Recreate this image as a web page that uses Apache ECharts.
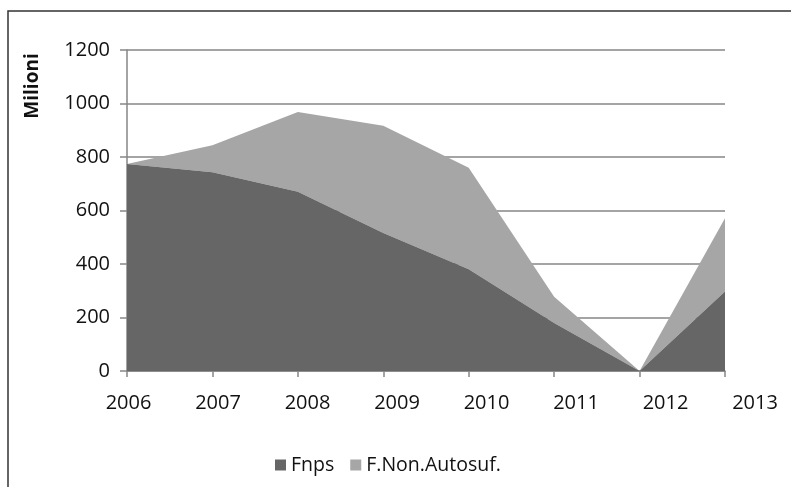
<!DOCTYPE html>
<html>
<head>
<meta charset="utf-8">
<script src="https://cdn.jsdelivr.net/npm/echarts@6/dist/echarts.min.js"></script>
<style>
html,body{margin:0;padding:0;background:#fff;}
#chart{width:791px;height:487px;}
</style>
</head>
<body>
<div id="chart"></div>
<script>
const categories = ['2006','2007','2008','2009','2010','2011','2012','2013'];
const fnps = [774, 743, 670, 516, 380, 179, 0, 297];
const fNonAutosuf = [0, 101, 298, 401, 380, 99, 0, 274];
const yTicks = [0, 200, 400, 600, 800, 1000, 1200];

const FONT = '"Open Sans", sans-serif';
const chart = echarts.init(document.getElementById('chart'), null, {renderer: 'canvas'});
chart.setOption({
  animation: false,
  backgroundColor: '#fff',
  grid: [
    {left: 127, right: 66, top: 50, bottom: 116, containLabel: false},
    {left: 128.5, right: 36, top: 50, bottom: 116, containLabel: false}
  ],
  legend: {
    left: 270, top: 450,
    icon: 'rect', itemWidth: 11, itemHeight: 11, itemGap: 16,
    textStyle: {fontFamily: FONT, fontSize: 19.5, color: '#111'},
    data: ['Fnps', 'F.Non.Autosuf.']
  },
  xAxis: [
    {
      type: 'category', gridIndex: 0, data: categories, boundaryGap: false,
      axisLine: {lineStyle: {color: '#868686', width: 1.5}},
      axisTick: {show: true, length: 6, lineStyle: {color: '#868686', width: 1.5}},
      axisLabel: {show: false},
      splitLine: {show: false}
    },
    {
      type: 'category', gridIndex: 1, data: categories, boundaryGap: false,
      axisLine: {show: false}, axisTick: {show: false},
      axisLabel: {show: true, margin: 22, fontFamily: FONT, fontSize: 20, color: '#111'},
      splitLine: {show: false}
    }
  ],
  yAxis: [
    {
      type: 'value', gridIndex: 0, min: 0, max: 1200, interval: 200,
      axisLine: {show: true, lineStyle: {color: '#868686', width: 1.5}},
      axisTick: {show: true, length: 7, lineStyle: {color: '#868686', width: 1.5}},
      axisLabel: {margin: 17, fontFamily: FONT, fontSize: 20, color: '#111',
        formatter: v => yTicks.includes(v) ? String(v) : ''},
      splitLine: {show: true, lineStyle: {color: '#868686', width: 1.5}}
    },
    {
      type: 'value', gridIndex: 1, min: 0, max: 1200, interval: 200, show: false
    }
  ],
  graphic: [
    {type: 'rect', shape: {x: 8, y: 11, width: 820, height: 520},
     style: {fill: 'none', stroke: '#333', lineWidth: 1.5}, silent: true},
    {type: 'text', x: 33, y: 86, rotation: Math.PI / 2,
     style: {text: 'Milioni', fontFamily: FONT, fontWeight: 'bold', fontSize: 19,
       fill: '#111', align: 'center', verticalAlign: 'middle'}}
  ],
  series: [
    {
      name: 'Fnps', type: 'line', stack: 'total', xAxisIndex: 0, yAxisIndex: 0,
      data: fnps, symbol: 'none', lineStyle: {width: 0},
      itemStyle: {color: '#666666'},
      areaStyle: {color: '#666666', opacity: 1}, z: 3
    },
    {
      name: 'F.Non.Autosuf.', type: 'line', stack: 'total', xAxisIndex: 0, yAxisIndex: 0,
      data: fNonAutosuf, symbol: 'none', lineStyle: {width: 0},
      itemStyle: {color: '#a6a6a6'},
      areaStyle: {color: '#a6a6a6', opacity: 1}, z: 2
    }
  ]
});
</script>
</body>
</html>
